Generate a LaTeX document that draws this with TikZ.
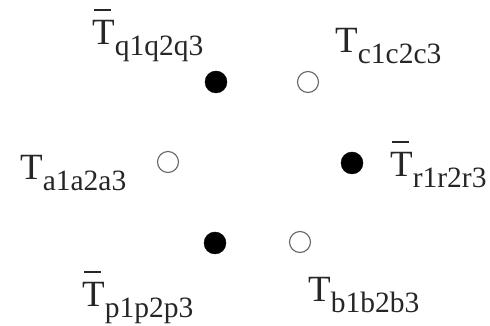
\documentclass[tikz,border=0pt]{standalone}
\usepackage{fontspec}
\setmainfont{Liberation Serif}
\newcommand{\lbl}[2]{{\fontsize{37}{40}\selectfont #1}{\fontsize{29.5}{32}\selectfont\raisebox{-11pt}{#2}}}
\newcommand{\barT}{\makebox[0pt][l]{\hspace{2pt}\raisebox{34pt}{\rule{17pt}{1.6pt}}}T}
\begin{document}
\begin{tikzpicture}[x=1pt,y=1pt,
  fullpt/.style={circle,fill=black,draw=black,minimum size=22pt,inner sep=0pt},
  openpt/.style={circle,draw=black!60,line width=1.1pt,fill=white,minimum size=21pt,inner sep=0pt},
  lab/.style={anchor=base west,inner sep=0pt,text=black!85}]
\useasboundingbox (0,0) rectangle (490,326);
\node[fullpt] (q) at (216,244) {};
\node[openpt] (c) at (308,244) {};
\node[openpt] (a) at (168,164) {};
\node[fullpt] (r) at (352,163) {};
\node[fullpt] (p) at (215,83) {};
\node[openpt] (b) at (300,84) {};
\node[lab] (lq) at (92,281) {\lbl{\barT}{q1q2q3}};
\node[lab] (lc) at (335,273) {\lbl{T}{c1c2c3}};
\node[lab] (la) at (20,146) {\lbl{T}{a1a2a3}};
\node[lab] (lr) at (390,149) {\lbl{\barT}{r1r2r3}};
\node[lab] (lp) at (82,19) {\lbl{\barT}{p1p2p3}};
\node[lab] (lb) at (308,24) {\lbl{T}{b1b2b3}};
\end{tikzpicture}
\end{document}
